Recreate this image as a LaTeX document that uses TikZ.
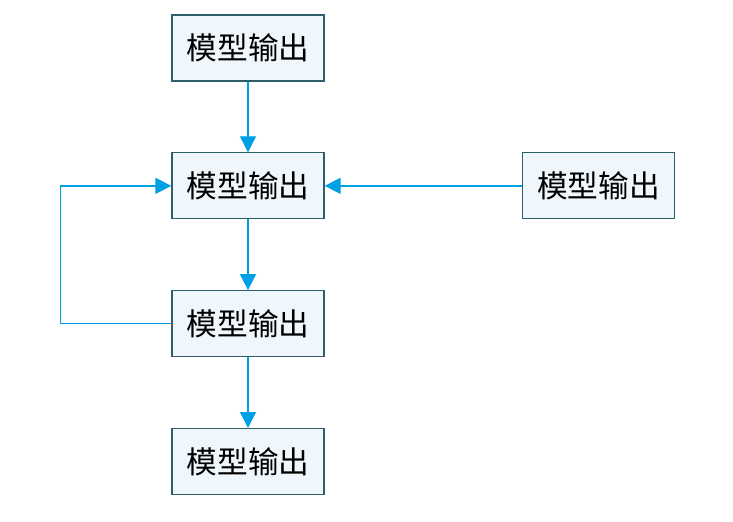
\documentclass[tikz,border=0pt]{standalone}
\usepackage{fontspec}
\newfontfamily\cjk{Noto Sans CJK SC}
\usetikzlibrary{
  arrows.meta,
  positioning
}
\definecolor{boxteal}{RGB}{45,95,105}
\definecolor{boxfill}{RGB}{240,247,252}
\definecolor{flowcyan}{RGB}{0,160,228}
\tikzset{
  outbox/.style={
    draw=boxteal,
    fill=boxfill,
    line width=0.9pt,
    align=center,
    minimum height=49.5pt,
    minimum width=114pt,
    inner sep=2pt,
    font=\cjk\fontsize{23pt}{26pt}\selectfont
  },
  flowarrow/.style={-{Triangle[length=12pt,width=12pt]},line width=1pt,draw=flowcyan}
}
\begin{document}
\begin{tikzpicture}[node distance=53pt and 148pt]
  \useasboundingbox (0,0) rectangle (549.75pt,-391.5pt);
  \node[outbox] (top) at (186pt,-36pt) {模型输出};
  \node[outbox,below=of top] (mid) {模型输出};
  \node[outbox,below=of mid] (low) {模型输出};
  \node[outbox,below=of low] (bottom) {模型输出};
  \node[outbox,right=of mid] (side) {模型输出};
  \draw[flowarrow] (top) -- (mid);
  \draw[flowarrow] (mid) -- (low);
  \draw[flowarrow] (low) -- (bottom);
  \draw[flowarrow] (side) -- (mid);
  \draw[flowarrow] (low.west) -- ++(-83.25pt,0) |- (mid.west);
\end{tikzpicture}
\end{document}
